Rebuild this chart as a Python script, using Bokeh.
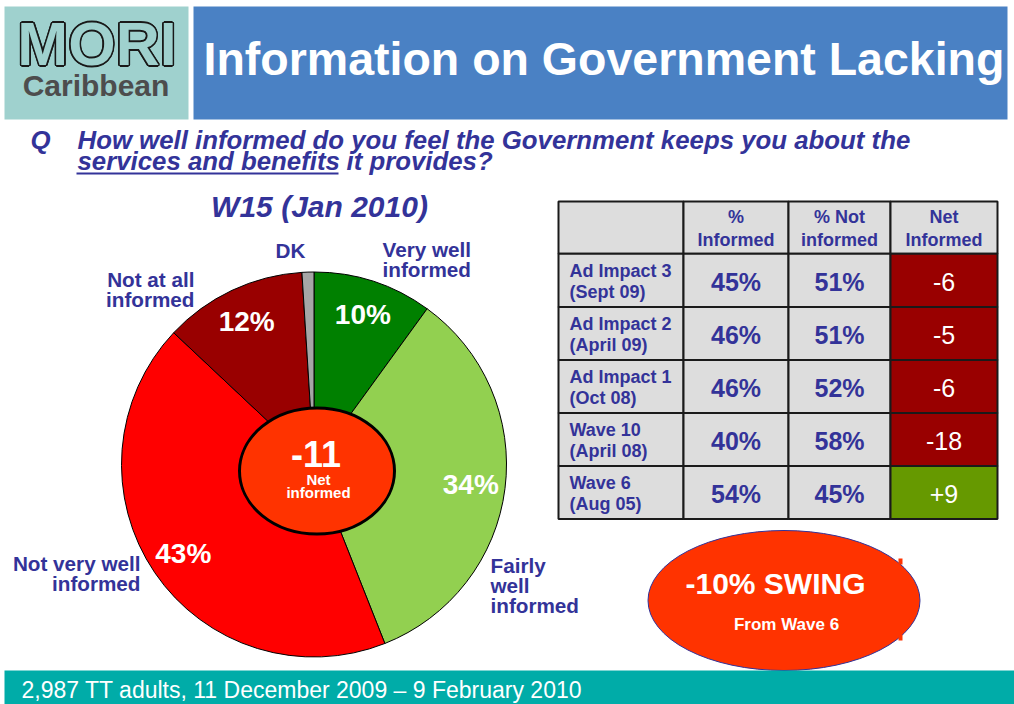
import math
import numpy as np
from bokeh.plotting import figure
from bokeh.models import Range1d
from bokeh.core.properties import value
from bokeh.embed import file_html
from bokeh.resources import INLINE

# ---------------- data ----------------
logo_top = "MORI"
logo_bottom = "Caribbean"
title = "Information on Government Lacking"
q_label = "Q"
question_l1 = "How well informed do you feel the Government keeps you about the"
question_l2a = "services and benefits"
question_l2b = "it provides?"
wave_title = "W15 (Jan 2010)"

pie_labels = ["Very well informed", "Fairly well informed", "Not very well informed",
              "Not at all informed", "DK"]
pie_values = [10, 34, 43, 12, 1]
pie_colors = ["#008000", "#92d050", "#ff0000", "#990000", "#a6a6a6"]
net_informed = -11

col_headers = [["%", "Informed"], ["% Not", "informed"], ["Net", "Informed"]]
row_names = ["Ad Impact 3", "Ad Impact 2", "Ad Impact 1", "Wave 10", "Wave 6"]
row_dates = ["(Sept 09)", "(April 09)", "(Oct 08)", "(April 08)", "(Aug 05)"]
pct_informed = [45, 46, 46, 40, 54]
pct_not_informed = [51, 51, 52, 58, 45]
net_values = [-6, -5, -6, -18, 9]

swing = -10
swing_from = "From Wave 6"
footer = "2,987 TT adults, 11 December 2009 \u2013 9 February 2010"

# ---------------- style ----------------
FONT = value("Liberation Sans")
BLUE = "#333399"
LOGO_BG = "#9fd1ce"
W, H = 1014, 704


def Y(py):
    return H - py


p = figure(width=W, height=H, x_range=Range1d(0, W), y_range=Range1d(0, H),
           output_backend="svg", toolbar_location=None, min_border=0,
           x_axis_location=None, y_axis_location=None)
p.grid.visible = False
p.outline_line_color = None
p.background_fill_color = "white"
p.border_fill_color = "white"

# header boxes
p.quad(left=[4, 193], right=[188, 1007], top=[Y(6), Y(6)], bottom=[Y(119), Y(119)],
       fill_color=[LOGO_BG, "#4a81c4"], line_color=None)

# outlined "MORI": dark copies offset all round, then background-coloured fill
mx, my = 96.5, Y(43.5)
ox, oy = [], []
for k in range(12):
    a = 2 * math.pi * k / 12
    ox.append(mx + 1.6 * math.cos(a))
    oy.append(my + 1.6 * math.sin(a))
p.text(x=ox, y=oy, text=[logo_top] * len(ox), text_font=FONT, text_font_style="bold",
       text_font_size="61px", text_color="#1a1a1a", text_align="center",
       text_baseline="middle")
p.text(x=[mx], y=[my], text=[logo_top], text_font=FONT, text_font_style="bold",
       text_font_size="61px", text_color=LOGO_BG, text_align="center",
       text_baseline="middle")
p.text(x=[95.5], y=[Y(85)], text=[logo_bottom], text_font=FONT, text_font_style="bold",
       text_font_size="30px", text_color="#4d4d4d", text_align="center",
       text_baseline="middle")
p.text(x=[203], y=[Y(58)], text=[title], text_font=FONT, text_font_style="bold",
       text_font_size="46.5px", text_color="white", text_align="left", text_baseline="middle")

# question
qkw = dict(text_font=FONT, text_font_style="bold italic", text_font_size="25.8px",
           text_color=BLUE, text_align="left", text_baseline="middle")
p.text(x=[30], y=[Y(139)], text=[q_label], **qkw)
p.text(x=[77], y=[Y(139)], text=[question_l1], **qkw)
p.text(x=[77], y=[Y(160.5)], text=[question_l2a], **qkw)
p.text(x=[346], y=[Y(160.5)], text=[question_l2b], **qkw)
p.segment(x0=[76], y0=[Y(173)], x1=[338], y1=[Y(173)], line_color=BLUE, line_width=2)

p.text(x=[319], y=[Y(206)], text=[wave_title], text_font=FONT,
       text_font_style="bold italic", text_font_size="30px", text_color=BLUE,
       text_align="center", text_baseline="middle")

# ---------------- pie ----------------
cx, cy, R = 313.5, Y(464), 192.5
fr = np.array(pie_values, dtype=float) / sum(pie_values)
c1 = np.cumsum(fr)
c0 = c1 - fr
start = math.pi / 2 - 2 * math.pi * c0
end = math.pi / 2 - 2 * math.pi * c1
p.wedge(x=cx, y=cy, radius=R, start_angle=start, end_angle=end, direction="clock",
        fill_color=pie_colors, line_color="black", line_width=1)

# percentage labels inside slices (skip tiny DK)
mid = math.pi / 2 - 2 * math.pi * (c0 + c1) / 2
lx, ly, lt = [], [], []
for i, v in enumerate(pie_values):
    if v >= 5:
        lx.append(cx + 158 * math.cos(mid[i]))
        ly.append(cy + 158 * math.sin(mid[i]))
        lt.append(f"{v}%")
p.text(x=lx, y=ly, text=lt, text_font=FONT, text_font_style="bold", text_font_size="28px",
       text_color="white", text_align="center", text_baseline="middle")

# centre ellipse
p.ellipse(x=[316.5], y=[Y(470.5)], width=155, height=126, fill_color="#ff3300",
          line_color="black", line_width=3)
p.text(x=[315.5], y=[Y(453)], text=[f"{net_informed}"], text_font=FONT,
       text_font_style="bold", text_font_size="36px", text_color="white",
       text_align="center", text_baseline="middle")
p.text(x=[318, 318], y=[Y(479), Y(491.5)], text=["Net", "informed"], text_font=FONT,
       text_font_style="bold", text_font_size="15px", text_color="white",
       text_align="center", text_baseline="middle")

# outer labels
okw = dict(text_font=FONT, text_font_style="bold", text_font_size="20.7px", text_color=BLUE,
           text_baseline="middle")
p.text(x=[382, 382], y=[Y(249), Y(269)], text=["Very well", "informed"],
       text_align="left", **okw)
p.text(x=[490, 490, 490], y=[Y(565), Y(585), Y(605)], text=["Fairly", "well", "informed"],
       text_align="left", **okw)
p.text(x=[140, 140], y=[Y(563), Y(583)], text=["Not very well", "informed"],
       text_align="right", **okw)
p.text(x=[194, 194], y=[Y(279), Y(299)], text=["Not at all", "informed"],
       text_align="right", **okw)
p.text(x=[290], y=[Y(250)], text=[pie_labels[4]], text_align="center", **okw)

# ---------------- table ----------------
xe = [558, 683, 788, 890, 997]
ye = [201, 253.3, 306.5, 359.5, 412.5, 465.5, 518.5]
L, Rr, T, B, F = [], [], [], [], []
for r in range(6):
    for c in range(4):
        L.append(xe[c]); Rr.append(xe[c + 1]); T.append(Y(ye[r])); B.append(Y(ye[r + 1]))
        if r > 0 and c == 3:
            F.append("#990000" if net_values[r - 1] < 0 else "#669900")
        else:
            F.append("#dddddd")
p.quad(left=L, right=Rr, top=T, bottom=B, fill_color=F, line_color="#1a1a1a", line_width=2)

ccx = [(xe[c] + xe[c + 1]) / 2 for c in range(1, 4)]
hx, hy, ht = [], [], []
for c in range(3):
    hx += [ccx[c], ccx[c]]
    hy += [Y(216.7), Y(239)]
    ht += col_headers[c]
p.text(x=hx, y=hy, text=ht, text_font=FONT, text_font_style="bold", text_font_size="18px",
       text_color=BLUE, text_align="center", text_baseline="middle")

rx, ry, rt = [], [], []
vx, vy, vt = [], [], []
nx, ny, nt = [], [], []
for i in range(5):
    top = ye[i + 1]
    rc = (ye[i + 1] + ye[i + 2]) / 2
    rx += [569, 569]
    ry += [Y(top + 16.7), Y(top + 38.4)]
    rt += [row_names[i], row_dates[i]]
    vx += [ccx[0], ccx[1]]
    vy += [Y(rc + 1.5), Y(rc + 1.5)]
    vt += [f"{pct_informed[i]}%", f"{pct_not_informed[i]}%"]
    nx.append(ccx[2]); ny.append(Y(rc + 1.5))
    nt.append(f"{net_values[i]:+d}" if net_values[i] > 0 else f"{net_values[i]}")
p.text(x=rx, y=ry, text=rt, text_font=FONT, text_font_style="bold", text_font_size="18px",
       text_color=BLUE, text_align="left", text_baseline="middle")
p.text(x=vx, y=vy, text=vt, text_font=FONT, text_font_style="bold", text_font_size="25px",
       text_color=BLUE, text_align="center", text_baseline="middle")
p.text(x=nx, y=ny, text=nt, text_font=FONT, text_font_style="normal", text_font_size="25px",
       text_color="white", text_align="center", text_baseline="middle")

# ---------------- swing ellipse ----------------
p.ellipse(x=[783.5], y=[Y(600)], width=272, height=140, fill_color="#ff3300",
          line_color=BLUE, line_width=1)
p.quad(left=[898, 898], right=[902, 902], top=[Y(558), Y(634)], bottom=[Y(564), Y(640)],
       fill_color="#ff3300", line_color=None)
p.text(x=[775], y=[Y(583)], text=[f"{swing}% SWING"], text_font=FONT, text_font_style="bold",
       text_font_size="30px", text_color="white", text_align="center", text_baseline="middle")
p.text(x=[786], y=[Y(624)], text=[swing_from], text_font=FONT, text_font_style="bold",
       text_font_size="17px", text_color="white", text_align="center", text_baseline="middle")

# ---------------- footer ----------------
p.quad(left=[4], right=[W], top=[Y(670)], bottom=[Y(704)], fill_color="#00aca8",
       line_color=None)
p.text(x=[21], y=[Y(689)], text=[footer], text_font=FONT, text_font_size="23px",
       text_color="white", text_align="left", text_baseline="middle")

open("out.html", "w").write(file_html(p, INLINE))
